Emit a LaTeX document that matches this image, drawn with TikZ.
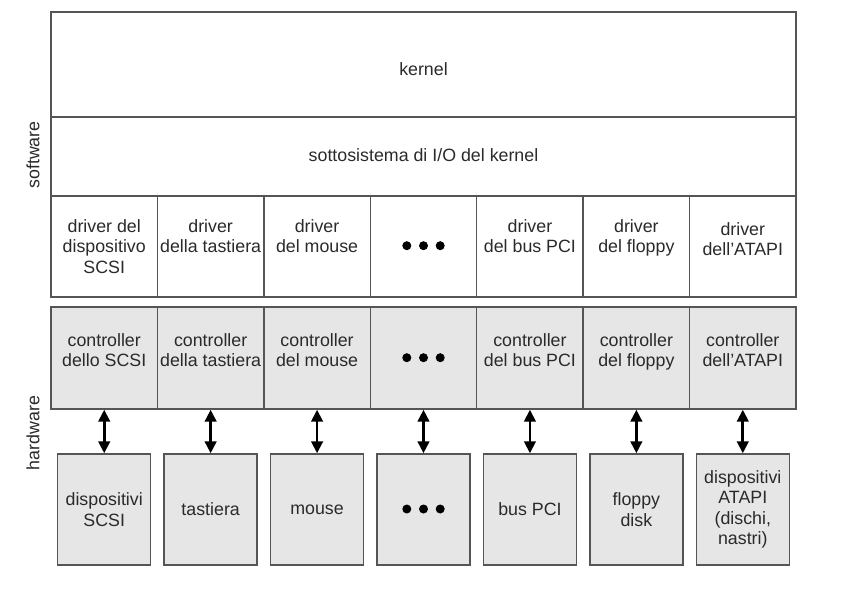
\documentclass[tikz,border=0pt]{standalone}
\usepackage{fontspec}
\setmainfont{Liberation Sans}
\usetikzlibrary{arrows.meta}
\definecolor{edge}{HTML}{555555}
\definecolor{ink}{HTML}{2A2A2A}
\definecolor{hwfill}{HTML}{E6E6E6}
\tikzset{
  cell/.style={draw=edge, line width=1.4pt, rectangle, inner sep=0pt, minimum width=106.43pt},
  swcell/.style={cell, minimum height=101pt},
  hwcell/.style={cell, fill=hwfill, minimum height=102pt},
  devbox/.style={draw=edge, line width=1.4pt, fill=hwfill, rectangle, inner sep=0pt, minimum width=93pt, minimum height=111pt, align=center, text=ink},
  lbl/.style={inner sep=0pt, align=center, text=ink, anchor=north},
  dot/.style={circle, fill=black, inner sep=0pt, minimum size=9pt},
  link/.style={line width=2.8pt, {Triangle[length=12pt,width=11.5pt]}-{Triangle[length=12pt,width=11.5pt]}},
  side/.style={inner sep=0pt, text=ink, rotate=90}
}
\begin{document}
\begin{tikzpicture}[x=1pt,y=-1pt, font=\fontsize{17.8}{20.5}\selectfont]
\useasboundingbox (0,0) rectangle (841,589);
% software stack
\node[cell, minimum width=745pt, minimum height=105pt] (kern) at (423.5,64.5) {};
\node[lbl, anchor=center] (kernt) at (423.5,69) {kernel};
\node[cell, minimum width=745pt, minimum height=79pt] (sub) at (423.5,156.5) {};
\node[lbl, anchor=center] (subt) at (423.5,155) {sottosistema di I/O del kernel};
% columns
\foreach \i in {1,...,7}{
  \pgfmathsetmacro{\cx}{51+53.215+(\i-1)*106.43}
  \node[swcell] (drv\i) at (\cx,246.5) {};
  \node[hwcell] (ctl\i) at (\cx,358) {};
  \node[devbox] (dev\i) at (\cx,509.5) {};
  \draw[link] (ctl\i.south) -- (dev\i.north);
}
% driver texts
\node[lbl] (dt1) at ([yshift=-24pt]drv1.north) {driver del\\dispositivo\\SCSI};
\node[lbl] (dt2) at ([yshift=-24pt]drv2.north) {driver\\della tastiera};
\node[lbl] (dt3) at ([yshift=-24pt]drv3.north) {driver\\del mouse};
\node[lbl] (dt5) at ([yshift=-24pt]drv5.north) {driver\\del bus PCI};
\node[lbl] (dt6) at ([yshift=-24pt]drv6.north) {driver\\del floppy};
\node[lbl] (dt7) at ([yshift=-27pt]drv7.north) {driver\\dell’ATAPI};
% controller texts
\node[lbl] (ct1) at ([yshift=-27pt]ctl1.north) {controller\\dello SCSI};
\node[lbl] (ct2) at ([yshift=-27pt]ctl2.north) {controller\\della tastiera};
\node[lbl] (ct3) at ([yshift=-27pt]ctl3.north) {controller\\del mouse};
\node[lbl] (ct5) at ([yshift=-27pt]ctl5.north) {controller\\del bus PCI};
\node[lbl] (ct6) at ([yshift=-27pt]ctl6.north) {controller\\del floppy};
\node[lbl] (ct7) at ([yshift=-27pt]ctl7.north) {controller\\dell’ATAPI};
% ellipsis dots
\foreach \r/\y in {d/245.7, c/357.7, v/509}{
  \foreach \k/\dx in {1/-16.7, 2/0, 3/16.7}{
    \node[dot] (dot\r\k) at ([xshift=\dx pt]drv4.center |- 0,\y) {};
  }
}
% device texts
\node[lbl, anchor=center] (vt1) at (dev1.center) {dispositivi\\SCSI};
\node[lbl, anchor=center] (vt2) at (dev2.center) {tastiera};
\node[lbl, anchor=center] (vt3) at (dev3.center) {mouse};
\node[lbl, anchor=center] (vt5) at (dev5.center) {bus PCI};
\node[lbl, anchor=center] (vt6) at (dev6.center) {floppy\\disk};
\node[lbl, anchor=center] (vt7) at (dev7.center) {dispositivi\\ATAPI\\(dischi,\\nastri)};
% side labels
\node[side] (sw) at (33,155) {software};
\node[side] (hw) at (33,433) {hardware};
\end{tikzpicture}
\end{document}
